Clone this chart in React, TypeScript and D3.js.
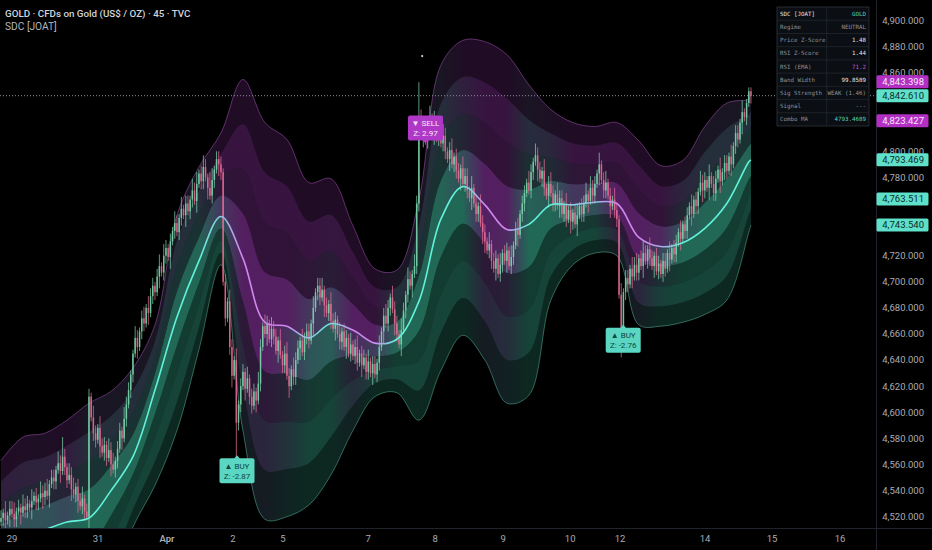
import * as React from 'react';
import * as d3 from 'd3';

const W = 932;
const H = 550;
const PLOT_W = 876;
const PLOT_H = 528;

// 45m closes in runs of 20 bars (Mar 27 -> Apr 14)
const closesA = [4519, 4523, 4517, 4521, 4526, 4522, 4518, 4524, 4527, 4523, 4528, 4525, 4530, 4527, 4532, 4536, 4531, 4534, 4538, 4535];
const closesB = [4540, 4536, 4545, 4550, 4547, 4556, 4561, 4555, 4566, 4558, 4548, 4552, 4541, 4537, 4543, 4532, 4528, 4534, 4524, 4520];
const closesC = [4612, 4596, 4584, 4579, 4588, 4574, 4569, 4575, 4565, 4571, 4560, 4556, 4563, 4572, 4586, 4580, 4595, 4606, 4617, 4629];
const closesD = [4645, 4657, 4650, 4662, 4672, 4668, 4680, 4676, 4689, 4697, 4692, 4704, 4712, 4707, 4720, 4726, 4719, 4731, 4739, 4745];
const closesE = [4738, 4749, 4756, 4751, 4760, 4754, 4763, 4770, 4762, 4775, 4783, 4777, 4788, 4780, 4772, 4766, 4778, 4786, 4794, 4790];
const closesF = [4784, 4700, 4672, 4685, 4650, 4628, 4640, 4592, 4606, 4620, 4631, 4618, 4626, 4612, 4605, 4616, 4609, 4622, 4650, 4666];
const closesG = [4660, 4668, 4656, 4664, 4658, 4647, 4655, 4644, 4636, 4645, 4628, 4620, 4633, 4627, 4640, 4649, 4655, 4646, 4658, 4662];
const closesH = [4655, 4668, 4680, 4692, 4697, 4688, 4694, 4682, 4676, 4683, 4670, 4664, 4671, 4660, 4654, 4662, 4650, 4657, 4645, 4652];
const closesI = [4643, 4650, 4638, 4645, 4636, 4642, 4631, 4639, 4630, 4637, 4629, 4638, 4650, 4662, 4674, 4668, 4680, 4688, 4679, 4668];
const closesJ = [4660, 4652, 4663, 4678, 4690, 4702, 4697, 4706, 4712, 4760, 4826, 4812, 4820, 4808, 4818, 4826, 4814, 4822, 4810, 4816];
const closesK = [4806, 4812, 4800, 4794, 4801, 4790, 4796, 4785, 4779, 4787, 4775, 4781, 4770, 4764, 4772, 4760, 4752, 4758, 4745, 4738];
const closesL = [4731, 4724, 4729, 4716, 4710, 4718, 4706, 4713, 4722, 4716, 4724, 4712, 4719, 4728, 4740, 4736, 4752, 4760, 4768, 4776];
const closesM = [4770, 4784, 4792, 4797, 4786, 4779, 4785, 4772, 4766, 4775, 4768, 4760, 4767, 4758, 4764, 4752, 4759, 4748, 4755, 4746];
const closesN = [4753, 4744, 4751, 4758, 4752, 4760, 4767, 4762, 4772, 4766, 4775, 4783, 4790, 4778, 4770, 4776, 4766, 4758, 4763, 4755];
const closesO = [4748, 4690, 4660, 4692, 4703, 4698, 4710, 4704, 4713, 4707, 4718, 4712, 4722, 4716, 4725, 4718, 4712, 4720, 4708, 4714];
const closesP = [4706, 4716, 4710, 4722, 4717, 4726, 4721, 4730, 4738, 4733, 4744, 4739, 4751, 4758, 4752, 4763, 4758, 4769, 4776, 4770];
const closesQ = [4778, 4772, 4781, 4775, 4768, 4779, 4786, 4777, 4784, 4791, 4785, 4796, 4790, 4804, 4814, 4809, 4822, 4830, 4826, 4837, 4846, 4842.61];

const closes = [
  ...closesA, ...closesB, ...closesC, ...closesD, ...closesE, ...closesF,
  ...closesG, ...closesH, ...closesI, ...closesJ, ...closesK, ...closesL,
  ...closesM, ...closesN, ...closesO, ...closesP, ...closesQ,
];
const firstOpen = 4516;

// wick length per bar, one digit each, in WICK_UNIT dollars
const wickUp = [
  '21312231213221312132', '23122132521323122312', '21321322132312213221', '13212313221231321213',
  '21312213231232143122', '21213213122131221321', '32132213123213221312', '21312231213221312213',
  '12312213122131232132', '21321321329212231312', '13212312213221312132', '21312213122131231221',
  '32132213123213221312', '12312231322131231213', '21312213231232132122', '12213122131221312132',
  '2131221312213122131111',
].join('');
const wickDn = [
  '12213122131221312213', '21312213122131231221', '31221312213122131212', '21312213122131221312',
  '12213122131221312213', '21212319221312213121', '13122131221312213122', '21312213122131221312',
  '12213122131221312213', '21312213122131221312', '12213122131221312213', '31221312213122131221',
  '12213122131221312213', '21312213122131221312', '21612213122131221312', '12213122131221312213',
  '2131221312213122131212',
].join('');
const WICK_UNIT = 3;

// indicator, sampled every 10 bars: combo MA and outer band edges
const bandIdx = [0, 10, 20, 30, 40, 50, 60, 70, 80, 90, 100, 110, 120, 130, 140, 150, 160, 170,
  180, 190, 200, 210, 220, 230, 240, 250, 260, 270, 280, 290, 300, 310, 320, 330, 340, 341];
const comboMA = [4498, 4503, 4510, 4516, 4519, 4540, 4566, 4617, 4673, 4716, 4750, 4718, 4669, 4666, 4657, 4668, 4663, 4653,
  4656, 4685, 4748, 4773, 4759, 4740, 4744, 4759, 4759, 4761, 4760, 4734, 4727, 4730, 4741, 4760, 4792, 4793.469];
const bandUpper = [4563, 4581, 4584, 4594, 4607, 4616, 4634, 4667, 4751, 4788, 4814, 4855, 4822, 4809, 4776, 4779, 4743, 4710,
  4709, 4763, 4866, 4885, 4884, 4874, 4851, 4832, 4822, 4819, 4822, 4808, 4789, 4793, 4819, 4837, 4840, 4843.398];
const bandLower = [4433, 4425, 4436, 4438, 4431, 4464, 4512, 4544, 4586, 4648, 4713, 4586, 4518, 4520, 4529, 4552, 4586, 4612,
  4615, 4594, 4632, 4659, 4640, 4607, 4613, 4686, 4713, 4722, 4720, 4667, 4666, 4669, 4675, 4686, 4738, 4743.54];
const bandLevels = [0.25, 0.5, 0.75, 1];
const zoneAlpha = [0.52, 0.3, 0.34, 0.2];

const dateTicks = [
  { i: 5, label: '29' }, { i: 44.1, label: '31' }, { i: 75.5, label: 'Apr', bold: true },
  { i: 105.5, label: '2' }, { i: 128.2, label: '5' }, { i: 166.9, label: '7' },
  { i: 197.4, label: '8' }, { i: 228.3, label: '9' }, { i: 258.8, label: '10' },
  { i: 281.5, label: '12' }, { i: 320.1, label: '14' }, { i: 350.6, label: '15' },
  { i: 381.5, label: '16' },
];

const lastPrice = 4842.61;
const axisMarks = [
  { v: 4843.398, kind: 'mag' },
  { v: 4823.427, kind: 'mag' },
  { v: 4793.469, kind: 'teal' },
  { v: 4763.511, kind: 'teal' },
  { v: 4743.54, kind: 'teal' },
];

const signals = [
  { i: 107.3, p: 4567, kind: 'buy', z: '-2.87' },
  { i: 193, p: 4806, kind: 'sell', z: '2.97' },
  { i: 282.9, p: 4667, kind: 'buy', z: '-2.76' },
];
const markers = [{ i: 191.5, p: 4873 }];

const tableRows = [
  ['SDC [JOAT]', 'GOLD', '#4fd8bd'],
  ['Regime', 'NEUTRAL', '#8f959e'],
  ['Price Z-Score', '1.48', '#e8e8ea'],
  ['RSI Z-Score', '1.44', '#e8e8ea'],
  ['RSI (EMA)', '71.2', '#c35bd0'],
  ['Band Width', '99.8589', '#e8e8ea'],
  ['Sig Strength', 'WEAK (1.46)', '#8f959e'],
  ['Signal', '---', '#8f959e'],
  ['Combo MA', '4793.4689', '#4fd8bd'],
];

const TEAL = '#3fc8a4';
const PURPLE = '#a23cba';
const CYAN = '#62f2dc';
const LAV = '#cf86f0';
const FONT = 'Roboto, "Noto Sans", sans-serif';
const clamp = (v: number, a = 0, b = 1) => Math.max(a, Math.min(b, v));

export default function App() {
  const x = d3.scaleLinear().domain([0, closes.length - 1]).range([1, 751]);
  const y = d3.scaleLinear().domain([4520, 4900]).range([516.7, 20.8]);
  const fmt = d3.format(',.3f');
  const idxs = bandIdx.map((_, j) => j);

  const slope = comboMA.map((_, j) => {
    const a = Math.max(0, j - 1);
    const b = Math.min(comboMA.length - 1, j + 1);
    return (comboMA[b] - comboMA[a]) / (bandIdx[b] - bandIdx[a]);
  });
  const mixTP = d3.interpolateRgb(TEAL, PURPLE);
  const mixMid = d3.interpolateRgb(LAV, CYAN);
  const span = bandIdx[bandIdx.length - 1];

  const zones: { id: string; d: string; stops: { o: number; c: string; a: number }[] }[] = [];
  [1, -1].forEach(side => {
    const edge = side > 0 ? bandUpper : bandLower;
    bandLevels.forEach((f1, z) => {
      const f0 = z === 0 ? 0 : bandLevels[z - 1];
      const area = d3.area<number>()
        .x(j => x(bandIdx[j]))
        .y0(j => y(comboMA[j] + f0 * (edge[j] - comboMA[j])))
        .y1(j => y(comboMA[j] + f1 * (edge[j] - comboMA[j])))
        .curve(d3.curveCatmullRom);
      const stops = idxs.map(j => {
        const s = clamp(slope[j] / 1.0, -1, 1);
        const pw = clamp(0.55 - 0.7 * s + side * 0.2 * (z + 1));
        return { o: bandIdx[j] / span, c: mixTP(pw), a: zoneAlpha[z] };
      });
      zones.push({ id: `zone${side > 0 ? 'u' : 'd'}${z}`, d: area(idxs) || '', stops });
    });
  });

  const edgeLine = (edge: number[]) => d3.line<number>()
    .x(j => x(bandIdx[j]))
    .y(j => y(edge[j]))
    .curve(d3.curveCatmullRom)(idxs) || '';
  const midPath = d3.line<number>()
    .x(j => x(bandIdx[j]))
    .y(j => y(comboMA[j]))
    .curve(d3.curveCatmullRom)(idxs) || '';

  const candles = closes.map((c, i) => {
    const o = i === 0 ? firstOpen : closes[i - 1];
    const hi = Math.max(o, c) + +wickUp[i] * WICK_UNIT;
    const lo = Math.min(o, c) - +wickDn[i] * WICK_UNIT;
    return { i, o, c, hi, lo };
  });

  const lastY = y(lastPrice);
  const marks = axisMarks.map(m => {
    let ly = y(m.v);
    if (Math.abs(ly - lastY) < 13.5) ly = m.v > lastPrice ? lastY - 14 : lastY + 14;
    return { ...m, ly };
  });
  const allMarks = [...marks, { v: lastPrice, kind: 'teal', ly: lastY }];
  // the axis hides tick labels sitting under a price tag
  const ticks = y.ticks(20).filter(t => allMarks.every(m => Math.abs(y(t) - m.ly) > 8));

  const rowH = 119 / 9;

  return (
    <svg width={W} height={H} style={{ position: 'fixed', left: 0, top: 0, display: 'block' }}>
      <defs>
        <clipPath id="plot">
          <rect x={0} y={0} width={PLOT_W} height={PLOT_H} />
        </clipPath>
        {zones.map(z => (
          <linearGradient key={z.id} id={z.id} gradientUnits="userSpaceOnUse" x1={x(0)} x2={x(span)} y1={0} y2={0}>
            {z.stops.map((s, k) => <stop key={k} offset={s.o} stopColor={s.c} stopOpacity={s.a} />)}
          </linearGradient>
        ))}
        <linearGradient id="midG" gradientUnits="userSpaceOnUse" x1={x(0)} x2={x(span)} y1={0} y2={0}>
          {idxs.map(j => (
            <stop key={j} offset={bandIdx[j] / span} stopColor={mixMid(clamp(0.5 + slope[j] * 1.2))} />
          ))}
        </linearGradient>
      </defs>

      <rect width={W} height={H} fill="#000" />

      <g clipPath="url(#plot)">
        {zones.map(z => <path key={z.id} d={z.d} fill={`url(#${z.id})`} />)}
        <path d={edgeLine(bandUpper)} fill="none" stroke="#b45cc8" strokeOpacity={0.6} strokeWidth={0.8} />
        <path d={edgeLine(bandLower)} fill="none" stroke="#5cc8aa" strokeOpacity={0.6} strokeWidth={0.8} />

        <line x1={0} x2={PLOT_W} y1={lastY} y2={lastY} stroke="#8a8d96" strokeWidth={1} strokeDasharray="1 2" />

        {candles.map(k => {
          const up = k.c >= k.o;
          const col = up ? '#7fe0b2' : '#f0709a';
          const cx = x(k.i);
          const top = y(Math.max(k.o, k.c));
          const bot = y(Math.min(k.o, k.c));
          return (
            <g key={k.i} opacity={0.88}>
              <line x1={cx} x2={cx} y1={y(k.hi)} y2={y(k.lo)} stroke={col} strokeWidth={0.8} />
              <rect x={cx - 0.75} y={top} width={1.5} height={Math.max(1, bot - top)} fill={col} />
            </g>
          );
        })}

        <path d={midPath} fill="none" stroke="url(#midG)" strokeWidth={1.6} />

        {markers.map((m, k) => <circle key={k} cx={x(m.i)} cy={y(m.p)} r={1.1} fill="#d8d8d8" />)}

        {signals.map((s, k) => {
          const cx = x(s.i);
          const py = y(s.p);
          const bw = 35;
          const bh = 25;
          const sell = s.kind === 'sell';
          const top = sell ? py - 3 - bh : py + 3;
          const tip = sell ? `${cx - 3},${py - 3.5} ${cx + 3},${py - 3.5} ${cx},${py}` : `${cx - 3},${py + 3.5} ${cx + 3},${py + 3.5} ${cx},${py}`;
          const bg = sell ? '#b038c6' : '#5ad6c2';
          const fg = sell ? '#f6e9f8' : '#12453d';
          return (
            <g key={k} fontFamily={FONT} fontSize={8} fill={fg} textAnchor="middle">
              <rect x={cx - bw / 2} y={top} width={bw} height={bh} rx={2} fill={bg} />
              <polygon points={tip} fill={bg} />
              <text x={cx} y={top + 10.5}>{sell ? '▼ SELL' : '▲ BUY'}</text>
              <text x={cx} y={top + 20.5}>{`Z: ${s.z}`}</text>
            </g>
          );
        })}
      </g>

      {/* price axis */}
      <line x1={PLOT_W + 0.5} x2={PLOT_W + 0.5} y1={0} y2={H} stroke="#1f232c" />
      <line x1={0} x2={W} y1={PLOT_H + 0.5} y2={PLOT_H + 0.5} stroke="#1f232c" />
      <g fontFamily={FONT} fontSize={9.5} fill="#a9acb4">
        {ticks.map(t => (
          <text key={t} x={924} y={y(t) + 3.3} textAnchor="end">{fmt(t)}</text>
        ))}
      </g>
      <g fontFamily={FONT} fontSize={9.5}>
        {allMarks.map((m, k) => (
          <g key={k}>
            <rect x={PLOT_W + 0.5} y={m.ly - 6.5} width={52} height={13} rx={1.5} fill={m.kind === 'mag' ? '#b32fc4' : '#5fe0c8'} />
            <text x={924} y={m.ly + 3.3} textAnchor="end" fill={m.kind === 'mag' ? '#f7e8fa' : '#0c2b2a'}>{fmt(m.v)}</text>
          </g>
        ))}
      </g>

      {/* time axis */}
      <g fontFamily={FONT} fontSize={9.5} fill="#a9acb4" textAnchor="middle">
        {dateTicks.map(t => (
          <text key={t.label} x={x(t.i)} y={542} fontWeight={t.bold ? 600 : 400}>{t.label}</text>
        ))}
      </g>

      {/* legend */}
      <text x={5} y={16.5} fontFamily={FONT} fontSize={9.8} fontWeight={500} fill="#d1d4dc">
        GOLD · CFDs on Gold (US$ / OZ) · 45 · TVC
      </text>
      <text x={5} y={29.5} fontFamily={FONT} fontSize={10.2} fill="#b2b5be">SDC [JOAT]</text>

      {/* stats table */}
      <g fontFamily='"DejaVu Sans Mono", "Liberation Mono", monospace' fontSize={5.8}>
        <rect x={777} y={7} width={92} height={119} fill="#0b0e13" stroke="#2f343d" strokeWidth={0.8} />
        {tableRows.map((r, k) => (
          <g key={k}>
            {k > 0 && <line x1={777} x2={869} y1={7 + k * rowH} y2={7 + k * rowH} stroke="#262b33" strokeWidth={0.7} />}
            <text x={780} y={7 + k * rowH + rowH / 2 + 2} fill={k === 0 ? '#e8e8ea' : '#8b9099'}>{r[0]}</text>
            <text x={866} y={7 + k * rowH + rowH / 2 + 2} fill={r[2]} textAnchor="end">{r[1]}</text>
          </g>
        ))}
        <line x1={826.7} x2={826.7} y1={7} y2={126} stroke="#262b33" strokeWidth={0.7} />
      </g>
    </svg>
  );
}
